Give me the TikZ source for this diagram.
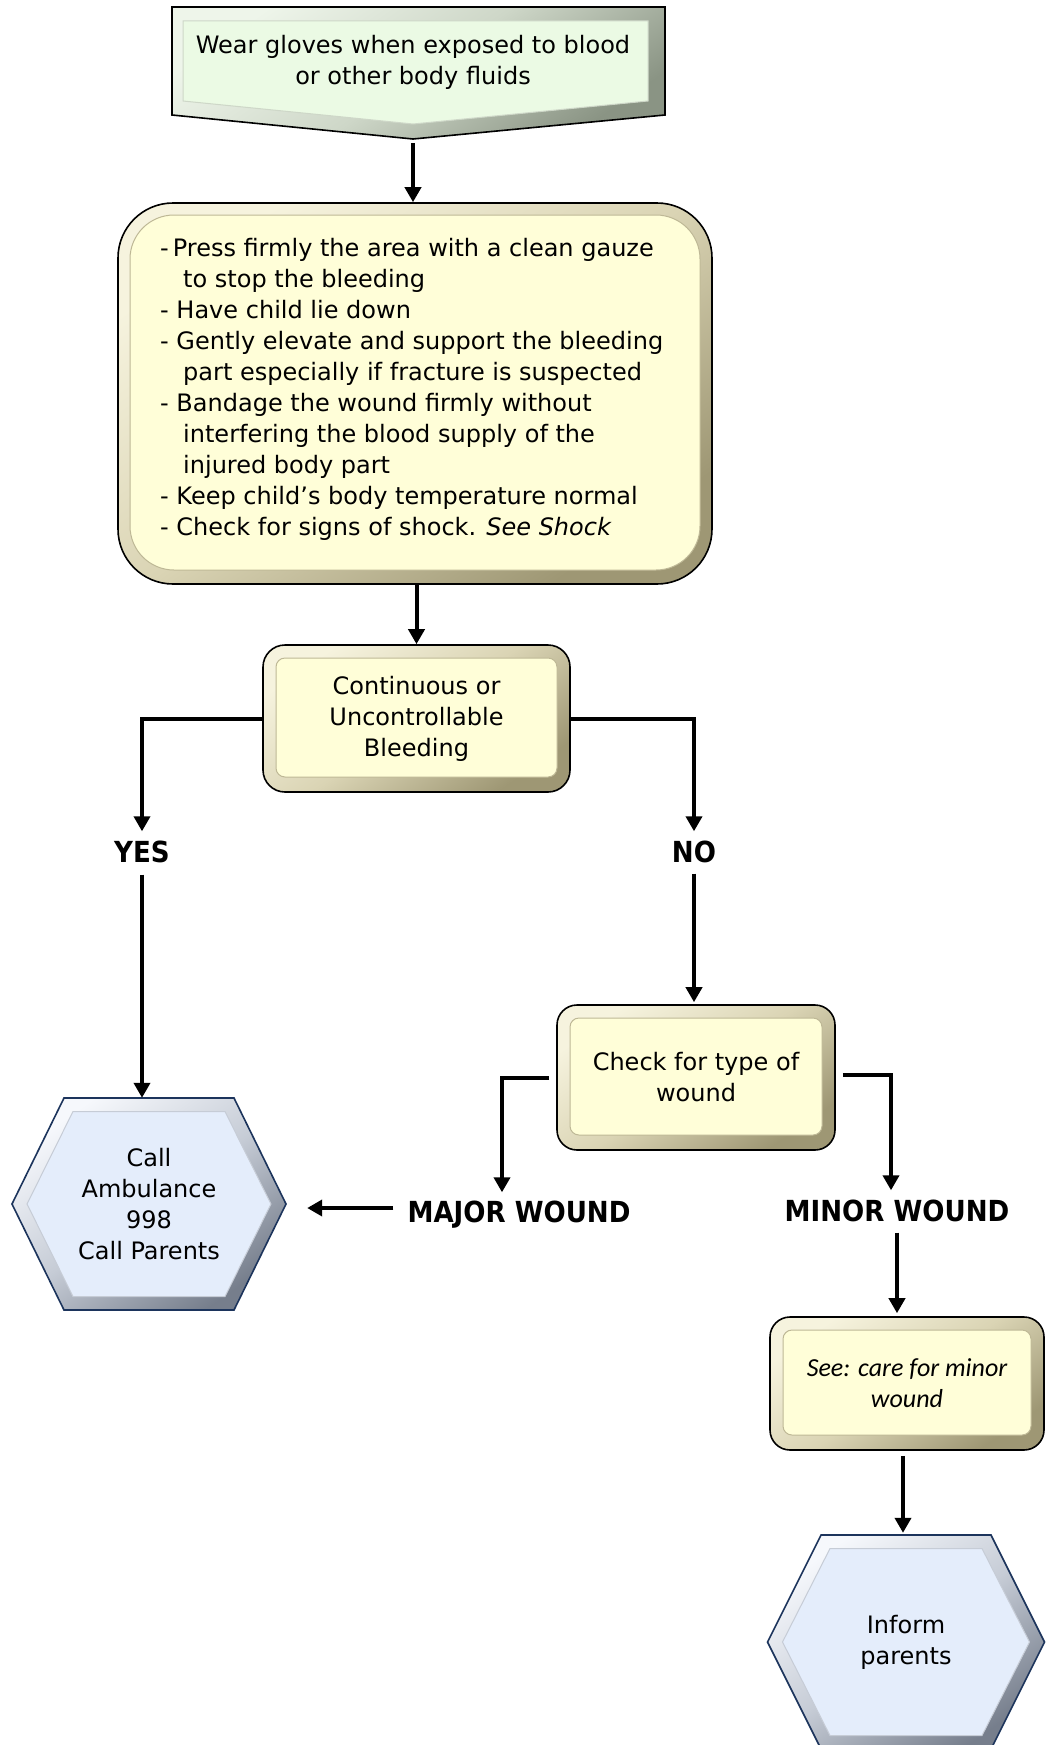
\documentclass[tikz,border=0pt]{standalone}
\usepackage{fontspec}
\setmainfont{DejaVu Sans}
\newfontfamily\labelfont{DejaVu Sans}[FakeStretch=0.9]
\newfontfamily\calibfont{Carlito}
\usetikzlibrary{arrows.meta,calc}

\definecolor{yface}{RGB}{255,254,216}
\definecolor{yrimL}{RGB}{246,243,222}
\definecolor{yrimM}{RGB}{218,212,180}
\definecolor{yrimD}{RGB}{158,151,116}
\definecolor{yedge}{RGB}{190,184,150}
\definecolor{gface}{RGB}{235,250,228}
\definecolor{grimL}{RGB}{238,245,234}
\definecolor{grimM}{RGB}{206,215,200}
\definecolor{grimD}{RGB}{138,148,132}
\definecolor{hface}{RGB}{228,237,251}
\definecolor{hrimL}{RGB}{246,248,252}
\definecolor{hrimM}{RGB}{198,204,214}
\definecolor{hrimD}{RGB}{118,126,140}
\definecolor{hline}{RGB}{28,52,92}

\tikzset{
  txt/.style={font=\fontsize{24pt}{31pt}\selectfont, align=center, inner sep=0pt},
  lbl/.style={font=\labelfont\bfseries\fontsize{29pt}{31pt}\selectfont,
    inner sep=0pt, text height=21pt, text depth=0pt},
  ybox/.style n args={3}{rectangle, rounded corners=#1, draw=black, line width=1.6pt,
    top color=yrimL, bottom color=yrimD, middle color=yrimM, shading angle=35,
    inner sep=0pt,
    path picture={\filldraw[fill=yface, draw=yedge, line width=1pt, rounded corners=#2]
      ([shift={(#3,-#3)}]path picture bounding box.north west) rectangle
      ([shift={(-#3,#3+2pt)}]path picture bounding box.south east);}},
  conn/.style={line width=4pt, -{Triangle[length=15pt,width=16pt]}},
  hexrimfill/.style={top color=hrimL, bottom color=hrimD, middle color=hrimM, shading angle=35},
  hexborder/.style={draw=hline, line width=1.6pt, line join=miter},
}

% bevelled hexagon: centre x, centre y, half width, half height, half top edge
\newcommand\hexrim[5]{%
  \path[hexrimfill] (#1-#3,#2) -- (#1-#5,#2-#4) -- (#1+#5,#2-#4) -- (#1+#3,#2)
    -- (#1+#5,#2+#4) -- (#1-#5,#2+#4) -- cycle;
  \filldraw[fill=hface, draw=hrimM, line width=1pt] (#1-#3+15,#2) -- (#1-#5+9,#2-#4+13.5) -- (#1+#5-9,#2-#4+13.5)
    -- (#1+#3-15,#2) -- (#1+#5-9,#2+#4-13.5) -- (#1-#5+9,#2+#4-13.5) -- cycle;
  \path[hexborder] (#1-#3,#2) -- (#1-#5,#2-#4) -- (#1+#5,#2-#4) -- (#1+#3,#2)
    -- (#1+#5,#2+#4) -- (#1-#5,#2+#4) -- cycle;
}

\begin{document}
\begin{tikzpicture}[x=1pt,y=-1pt]
\fill[white] (0,0) rectangle (1045,1745);
\path[use as bounding box] (0,0) rectangle (1045,1745);

% opening instruction: pentagon pointing down
\path[top color=grimL, bottom color=grimD, middle color=grimM, shading angle=35]
  (172,7) -- (665,7) -- (665,115) -- (413,139) -- (172,115) -- cycle;
\filldraw[fill=gface, draw=grimM, line width=1pt] (183,21) -- (648,21) -- (648,101) -- (413,124) -- (183,101) -- cycle;
\draw[line width=1.6pt, line join=miter]
  (172,7) -- (665,7) -- (665,115) -- (413,139) -- (172,115) -- cycle;
\node[txt] (gloves) at (413,62) {Wear gloves when exposed to blood\\or other body fluids};
\coordinate (glovestip) at (413,143);

% first aid steps
\node[ybox={55pt}{44pt}{12pt}, minimum width=594pt, minimum height=381pt] (care) at (415,393.5) {};
\node[txt, align=left, anchor=west] (steps) at (160,389) {%
-\hspace{4pt}Press firmly the area with a clean gauze\\
\hspace*{23pt}to stop the bleeding\\
- Have child lie down\\
- Gently elevate and support the bleeding\\
\hspace*{23pt}part especially if fracture is suspected\\
- Bandage the wound firmly without\\
\hspace*{23pt}interfering the blood supply of the\\
\hspace*{23pt}injured body part\\
- Keep child’s body temperature normal\\
- Check for signs of shock. \textit{See Shock}};

% decision
\node[ybox={22pt}{9pt}{13pt}, minimum width=307pt, minimum height=147pt, txt] (bleed) at (416.5,718.5)
  {Continuous or\\Uncontrollable\\Bleeding};

\node[lbl] (yes) at (142,852) {YES};
\node[lbl] (no) at (694,852) {NO};

\node[ybox={20pt}{9pt}{13pt}, minimum width=278pt, minimum height=145pt, txt] (chk) at (696,1077.5)
  {Check for type of\\wound};

\node[lbl] (major) at (519,1212) {MAJOR WOUND};
\node[lbl] (minor) at (897,1211) {MINOR WOUND};

\node[ybox={20pt}{9pt}{13pt}, minimum width=274pt, minimum height=133pt, txt,
  font=\calibfont\itshape\fontsize{26pt}{31pt}\selectfont] (seecare) at (907,1383.5)
  {See: care for minor\\wound};

% outcomes
\hexrim{149}{1204}{137}{106}{85}
\node[txt, minimum width=274pt, minimum height=212pt] (amb) at (149,1204)
  {Call\\Ambulance\\998\\Call Parents};
\hexrim{906}{1642}{138.5}{107}{85}
\node[txt, minimum width=277pt, minimum height=214pt] (inform) at (906,1642)
  {Inform\\parents};

% connectors
\draw[conn] (glovestip) -- (glovestip |- care.north);
\draw[conn] (bleed.north |- care.south) -- (bleed.north);
\draw[conn, shorten >=10pt] (bleed.west) -| (yes.north);
\draw[conn, shorten <=12pt] (yes.south) -- (yes.south |- amb.north);
\draw[conn, shorten >=10pt] (bleed.east) -| (no.north);
\draw[conn, shorten <=11pt, shorten >=2pt] (no.south) -- (no.south |- chk.north);
\draw[conn, shorten <=7pt, shorten >=9pt] (chk.west) -| ([xshift=-17pt]major.north);
\draw[conn, shorten <=14pt, shorten >=21pt] ([yshift=4pt]major.west) -- ([yshift=4pt]major.west -| amb.east);
\draw[conn, shorten <=7pt, shorten >=10pt] ([yshift=3pt]chk.east) -| ([xshift=-6pt]minor.north);
\draw[conn, shorten <=11pt, shorten >=3pt] (minor.south) -- (minor.south |- seecare.north);
\draw[conn, shorten <=5pt, shorten >=2pt] ([xshift=-4pt]seecare.south) -- ([xshift=-4pt]seecare.south |- inform.north);
\end{tikzpicture}
\end{document}
